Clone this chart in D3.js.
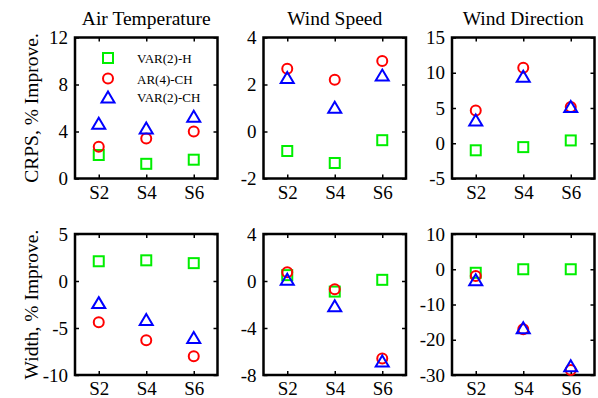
<!DOCTYPE html>
<html><head><meta charset="utf-8">
<script src="https://cdn.jsdelivr.net/npm/d3@7"></script>
<style>body{margin:0;background:#fff}svg{display:block}</style>
</head><body><svg id="c" width="598" height="398"></svg>
<script>
const stations = ["S2", "S4", "S6"];
const panelTitles = ["Air Temperature", "Wind Speed", "Wind Direction"];
const rowLabels = ["CRPS, % Improve.", "Width, % Improve."];
const seriesNames = ["VAR(2)-H", "AR(4)-CH", "VAR(2)-CH"];
const seriesColors = ["#00ee00", "#ff0000", "#0000ff"];
const seriesShapes = ["square", "circle", "triangle"];

// values per variable (Air Temp, Wind Speed, Wind Direction), per station S2,S4,S6
const crpsVar2H  = [[2.0, 1.25, 1.6], [-0.83, -1.34, -0.37], [-1.0, -0.55, 0.4]];
const crpsAr4CH  = [[2.7, 3.4, 4.0], [2.67, 2.2, 3.0], [4.65, 10.7, 5.15]];
const crpsVar2CH = [[4.7, 4.3, 5.3], [2.3, 1.03, 2.4], [3.3, 9.5, 5.2]];
const widthVar2H  = [[2.1, 2.2, 1.9], [0.5, -0.9, 0.1], [-1.0, 0, 0]];
const widthAr4CH  = [[-4.4, -6.3, -8.0], [0.74, -0.7, -6.6], [-1.9, -17, -28.6]];
const widthVar2CH = [[-2.3, -4.1, -6.0], [0.15, -2.1, -6.8], [-3.0, -16.6, -27.4]];

const yDomCrps  = [[0, 12], [-2, 4], [-5, 15]];
const yDomWidth = [[-10, 5], [-8, 4], [-30, 10]];
const yTicksCrps  = [[0, 4, 8, 12], [-2, 0, 2, 4], [-5, 0, 5, 10, 15]];
const yTicksWidth = [[-10, -5, 0, 5], [-8, -4, 0, 4], [-30, -20, -10, 0, 10]];

const rows = [
  {label: rowLabels[0], series: [crpsVar2H, crpsAr4CH, crpsVar2CH], dom: yDomCrps, ticks: yTicksCrps},
  {label: rowLabels[1], series: [widthVar2H, widthAr4CH, widthVar2CH], dom: yDomWidth, ticks: yTicksWidth}
];

const FONT = "'Liberation Serif', 'Tinos', 'Times New Roman', 'DejaVu Serif', serif";
const svg = d3.select("#c").style("font-family", FONT);
const colX = [75, 263.5, 452];
const pw = 142.5;
const rowY = [37.5, 234];
const ph = 141;

function drawMarker(g, shape, color, cx, cy) {
  if (shape === "square") {
    g.append("rect").attr("x", cx - 5).attr("y", cy - 5).attr("width", 10).attr("height", 10)
      .attr("fill", "none").attr("stroke", color).attr("stroke-width", 2);
  } else if (shape === "circle") {
    g.append("circle").attr("cx", cx).attr("cy", cy).attr("r", 5)
      .attr("fill", "none").attr("stroke", color).attr("stroke-width", 2);
  } else {
    const w = 6.5, h = 5.5;
    g.append("path").attr("d", `M${cx},${cy - h}L${cx + w},${cy + h}L${cx - w},${cy + h}Z`)
      .attr("fill", "none").attr("stroke", color).attr("stroke-width", 2);
  }
}

function txt(sel, size) {
  return sel.style("font-family", FONT).style("font-size", size).attr("fill", "#000");
}

rows.forEach((row, ri) => {
  const y0 = rowY[ri];
  txt(svg.append("text").attr("transform", `translate(38,${y0 + ph / 2}) rotate(-90)`)
    .attr("text-anchor", "middle"), "19.5px").text(row.label);
  for (let ci = 0; ci < 3; ci++) {
    const x0 = colX[ci];
    const g = svg.append("g").attr("transform", `translate(${x0},${y0})`);
    const x = d3.scaleLinear().domain([0.5, 3.5]).range([0, pw]);
    const y = d3.scaleLinear().domain(row.dom[ci]).range([ph, 0]);
    const fmt = d => String(d);
    const styleAxis = a => {
      a.attr("font-family", null).attr("font-size", null);
      a.select(".domain").remove();
      a.selectAll("line").attr("stroke", "#000").attr("stroke-width", 1.5);
      txt(a.selectAll("text"), "19px");
    };
    g.append("g").call(d3.axisLeft(y).tickValues(row.ticks[ci]).tickFormat(fmt).tickSize(-4).tickPadding(7))
      .call(styleAxis);
    g.append("g").attr("transform", `translate(${pw},0)`)
      .call(d3.axisRight(y).tickValues(row.ticks[ci]).tickFormat("").tickSize(-4)).call(styleAxis);
    g.append("g").attr("transform", `translate(0,${ph})`)
      .call(d3.axisBottom(x).tickValues([1, 2, 3]).tickFormat((d, i) => stations[i]).tickSize(-4).tickPadding(6))
      .call(styleAxis)
      .selectAll("text").attr("dy", null).attr("y", ri === 0 ? 20.5 : 19.5);
    g.append("g")
      .call(d3.axisTop(x).tickValues([1, 2, 3]).tickFormat("").tickSize(-4)).call(styleAxis);
    g.append("rect").attr("width", pw).attr("height", ph).attr("fill", "none")
      .attr("stroke", "#000").attr("stroke-width", 2.5);

    if (ri === 0) {
      txt(svg.append("text").attr("x", x0 + pw / 2).attr("y", 25).attr("text-anchor", "middle"), "19.5px")
        .text(panelTitles[ci]);
    }
    row.series.forEach((s, si) => {
      s[ci].forEach((v, k) => drawMarker(g, seriesShapes[si], seriesColors[si], x(k + 1), y(v)));
    });
    if (ri === 0 && ci === 0) {
      const ly = [58, 78.5, 97];
      seriesNames.forEach((name, si) => {
        drawMarker(svg, seriesShapes[si], seriesColors[si], 108, ly[si]);
        txt(svg.append("text").attr("x", 137).attr("y", ly[si] + 5), "13px").text(name);
      });
    }
  }
});
</script></body></html>
